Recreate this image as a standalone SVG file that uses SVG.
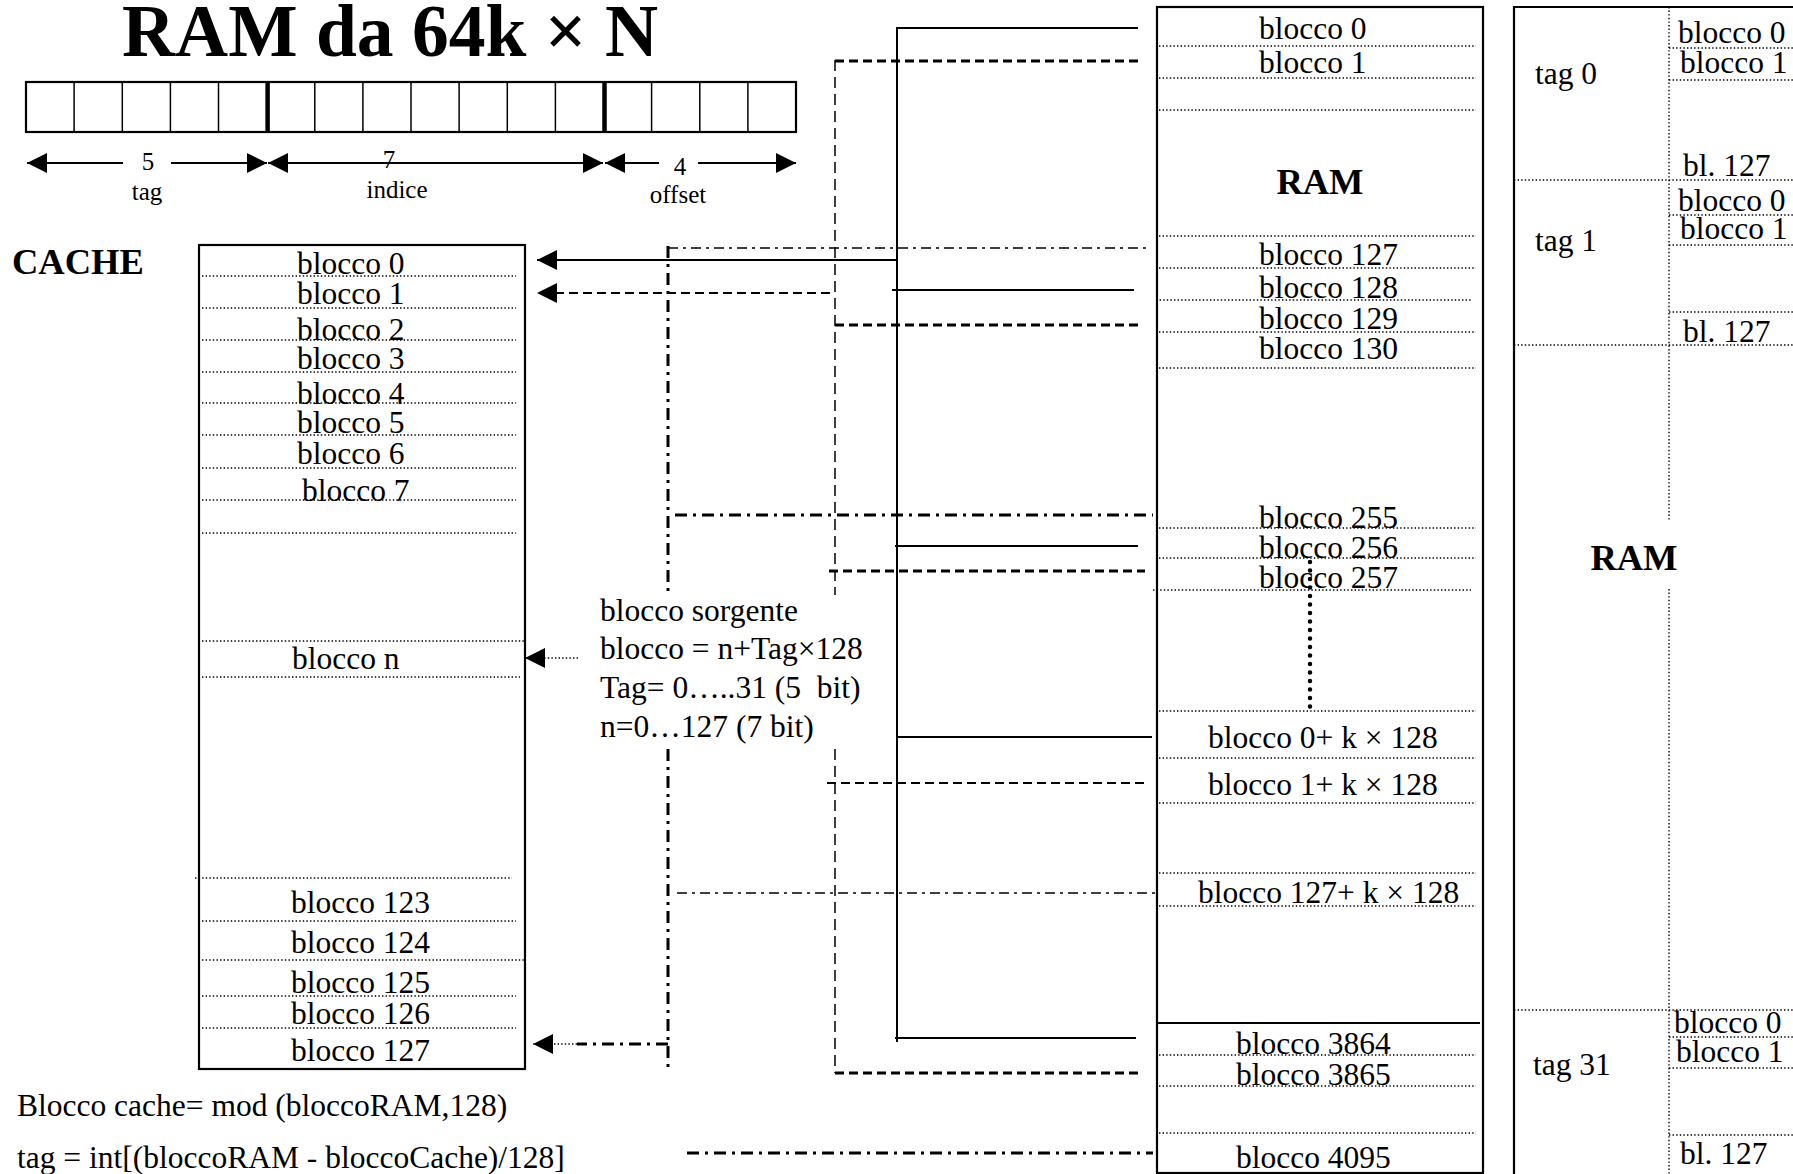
<svg xmlns="http://www.w3.org/2000/svg" width="1793" height="1174" viewBox="0 0 1793 1174">
<style>
text { font-family: "Liberation Serif", "Times New Roman", serif; fill: #000; }
.t { font-size: 31.5px; }
.s { font-size: 25px; }
.b { font-weight: bold; font-size: 36.5px; }
.c { text-anchor: middle; }
.box { fill: none; stroke: #000; stroke-width: 2.2; }
.dot { fill: none; stroke: #000; stroke-width: 1.4; stroke-dasharray: 1.4 2.2; }
.sol { fill: none; stroke: #000; stroke-width: 2; }
.dsh { fill: none; stroke: #000; stroke-width: 3; stroke-dasharray: 9 5; }
.dshm { fill: none; stroke: #000; stroke-width: 2; stroke-dasharray: 9 5; }
.dsht { fill: none; stroke: #000; stroke-width: 1.5; stroke-dasharray: 11 6; }
.dd { fill: none; stroke: #000; stroke-width: 3; stroke-dasharray: 12 6 3 6; }
.ddt { fill: none; stroke: #000; stroke-width: 1.6; stroke-dasharray: 10 5 3 5; }
.bigdot { fill: none; stroke: #000; stroke-width: 4.5; stroke-linecap: round; stroke-dasharray: 0 8.5; }
.cell { stroke: #000; stroke-width: 1.5; }
.thick { stroke: #000; stroke-width: 4.5; }
</style>
<defs>
<marker id="ah" markerUnits="userSpaceOnUse" markerWidth="20" markerHeight="20" refX="20" refY="10" orient="auto-start-reverse" viewBox="0 0 20 20">
<path d="M0,0 L20,10 L0,20 z" fill="#000"/>
</marker>
</defs>

<g id="title">
<text x="122" y="56" style="font-family:'Liberation Serif','Times New Roman',serif;font-weight:bold;font-size:73.5px">RAM da 64k × N</text>
</g>

<g id="bitfield">
<rect x="26" y="82" width="770" height="50" class="box"/>
<line x1="74.1" y1="82" x2="74.1" y2="132" class="cell"/>
<line x1="122.3" y1="82" x2="122.3" y2="132" class="cell"/>
<line x1="170.4" y1="82" x2="170.4" y2="132" class="cell"/>
<line x1="218.5" y1="82" x2="218.5" y2="132" class="cell"/>
<line x1="267.6" y1="82" x2="267.6" y2="132" class="thick"/>
<line x1="314.8" y1="82" x2="314.8" y2="132" class="cell"/>
<line x1="362.9" y1="82" x2="362.9" y2="132" class="cell"/>
<line x1="411" y1="82" x2="411" y2="132" class="cell"/>
<line x1="459.1" y1="82" x2="459.1" y2="132" class="cell"/>
<line x1="507.3" y1="82" x2="507.3" y2="132" class="cell"/>
<line x1="555.4" y1="82" x2="555.4" y2="132" class="cell"/>
<line x1="604.5" y1="82" x2="604.5" y2="132" class="thick"/>
<line x1="651.6" y1="82" x2="651.6" y2="132" class="cell"/>
<line x1="699.8" y1="82" x2="699.8" y2="132" class="cell"/>
<line x1="747.9" y1="82" x2="747.9" y2="132" class="cell"/>
<line x1="123" y1="163" x2="27" y2="163" class="sol" marker-end="url(#ah)"/>
<line x1="171" y1="163" x2="267" y2="163" class="sol" marker-end="url(#ah)"/>
<line x1="268" y1="163" x2="603" y2="163" class="sol" marker-start="url(#ah)" marker-end="url(#ah)"/>
<line x1="659" y1="163" x2="605" y2="163" class="sol" marker-end="url(#ah)"/>
<line x1="698" y1="163" x2="796" y2="163" class="sol" marker-end="url(#ah)"/>
<text x="148" y="170" class="s c">5</text>
<text x="389" y="168" class="s c">7</text>
<text x="680" y="175" class="s c">4</text>
<text x="147" y="200" class="s c">tag</text>
<text x="397" y="198" class="s c">indice</text>
<text x="678" y="203" class="s c">offset</text>
</g>

<g id="cache">
<text x="12" y="274" class="b">CACHE</text>
<rect x="199" y="245" width="326" height="824" class="box"/>
<path class="dot" d="M202,276H516M202,308H516M202,340H516M202,372H516M202,403H516M202,435H516M202,468H516M202,500H516M202,533H516M202,641H524M202,677H520M195,878H512M202,921H516M202,960H524M202,996H516M202,1028H516"/>
<text x="297" y="274" class="t">blocco 0</text>
<text x="297" y="304" class="t">blocco 1</text>
<text x="297" y="340" class="t">blocco 2</text>
<text x="297" y="369" class="t">blocco 3</text>
<text x="297" y="404" class="t">blocco 4</text>
<text x="297" y="433" class="t">blocco 5</text>
<text x="297" y="464" class="t">blocco 6</text>
<text x="302" y="501" class="t">blocco 7</text>
<text x="292" y="669" class="t">blocco n</text>
<text x="291" y="913" class="t">blocco 123</text>
<text x="291" y="953" class="t">blocco 124</text>
<text x="291" y="993" class="t">blocco 125</text>
<text x="291" y="1024" class="t">blocco 126</text>
<text x="291" y="1061" class="t">blocco 127</text>
</g>

<g id="formulas">
<text x="600" y="621" class="t">blocco sorgente</text>
<text x="600" y="659" class="t">blocco = n+Tag×128</text>
<text x="600" y="698" class="t" xml:space="preserve">Tag= 0…..31 (5  bit)</text>
<text x="600" y="737" class="t">n=0…127 (7 bit)</text>
<text x="17" y="1116" class="t">Blocco cache= mod (bloccoRAM,128)</text>
<text x="17" y="1168" class="t">tag = int[(bloccoRAM - bloccoCache)/128]</text>
</g>

<g id="ram">
<rect x="1157" y="7" width="326" height="1166" class="box"/>
<path class="dot" d="M1159,46H1476M1159,78H1476M1159,110H1476M1159,236H1476M1159,268H1476M1156,300H1471M1159,332H1476M1159,368H1476M1159,528H1476M1159,558H1476M1153,590H1471M1159,711H1476M1159,758H1476M1159,803H1476M1159,873H1476M1159,906H1476M1159,1055H1476M1159,1086H1476M1159,1133H1476"/>
<line x1="1158" y1="1023" x2="1480" y2="1023" class="box"/>
<line x1="1310" y1="562" x2="1310" y2="708" class="bigdot"/>
<text x="1259" y="39" class="t">blocco 0</text>
<text x="1259" y="73" class="t">blocco 1</text>
<text x="1320" y="194" class="b c">RAM</text>
<text x="1259" y="265" class="t">blocco 127</text>
<text x="1259" y="298" class="t">blocco 128</text>
<text x="1259" y="329" class="t">blocco 129</text>
<text x="1259" y="359" class="t">blocco 130</text>
<text x="1259" y="528" class="t">blocco 255</text>
<text x="1259" y="558" class="t">blocco 256</text>
<text x="1259" y="588" class="t">blocco 257</text>
<text x="1208" y="748" class="t">blocco 0+ k × 128</text>
<text x="1208" y="795" class="t">blocco 1+ k × 128</text>
<text x="1198" y="903" class="t">blocco 127+ k × 128</text>
<text x="1236" y="1054" class="t">blocco 3864</text>
<text x="1236" y="1085" class="t">blocco 3865</text>
<text x="1236" y="1168" class="t">blocco 4095</text>
</g>

<g id="ram-tags">
<path d="M1514,1176V7H1800" class="box"/>
<path class="dot" d="M1669,7V520M1669,589V1176M1669,48H1793M1669,80H1793M1514,180H1793M1669,215H1793M1669,245H1793M1669,312H1793M1514,345H1793M1514,1010H1793M1669,1037H1793M1669,1068H1793M1669,1135H1793"/>
<text x="1634" y="570" class="b c">RAM</text>
<text x="1535" y="84" class="t">tag 0</text>
<text x="1535" y="251" class="t">tag 1</text>
<text x="1533" y="1075" class="t">tag 31</text>
<text x="1678" y="43" class="t">blocco 0</text>
<text x="1680" y="73" class="t">blocco 1</text>
<text x="1683" y="176" class="t">bl. 127</text>
<text x="1678" y="211" class="t">blocco 0</text>
<text x="1680" y="239" class="t">blocco 1</text>
<text x="1683" y="342" class="t">bl. 127</text>
<text x="1674" y="1033" class="t">blocco 0</text>
<text x="1676" y="1062" class="t">blocco 1</text>
<text x="1680" y="1164" class="t">bl. 127</text>
</g>

<g id="connectors">
<path class="sol" d="M1138,28H897V1042M892,290H1134M895,546H1138M898,737H1152M895,1038H1136"/>
<line x1="897" y1="260" x2="537" y2="260" class="sol" marker-end="url(#ah)"/>
<path class="dsht" d="M835,60V595M835,749V1073"/>
<path class="dsh" d="M835,61H1142M835,325H1138M829,571H1145M835,1073H1138"/>
<path class="dshm" d="M827,783H1147"/>
<line x1="830" y1="293" x2="537" y2="293" class="dshm" marker-end="url(#ah)"/>
<path class="dd" d="M668,246V595M668,749V1073M675,515H1153M687,1153H1153M668,1044H577"/>
<path class="ddt" d="M668,248H1147M677,893H1156"/>
<line x1="577" y1="1044" x2="533" y2="1044" class="dot" marker-end="url(#ah)"/>
<line x1="578" y1="658" x2="525" y2="658" class="dot" marker-end="url(#ah)"/>
</g>
</svg>
